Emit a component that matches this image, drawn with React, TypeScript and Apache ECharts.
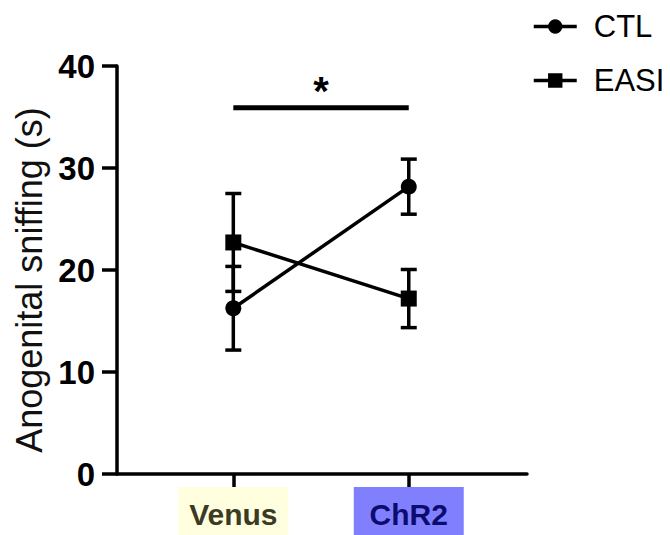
import React, { useEffect, useRef } from "react";
import * as echarts from "echarts";

// Groups on the x axis
const categories = ["Venus", "ChR2"];

// Mean ± SEM of anogenital sniffing time (s)
const ctlMean = [16.25, 28.17];
const ctlSem = [4.1, 2.7];
const easiMean = [22.7, 17.2];
const easiSem = [4.8, 2.85];

// Significance bracket between Venus and ChR2
const sigBar = [[0, 1, 35.9]];
const sigLabel = "*";

const yTicks = [0, 10, 20, 30, 40];

const FONT = "'Liberation Sans', Arial, Helvetica, sans-serif";

export default function App() {
  const ref = useRef<HTMLDivElement>(null);

  useEffect(() => {
    if (!ref.current) return;
    const chart = echarts.init(ref.current, undefined, { renderer: "svg" });

    const errData = [
      ...ctlMean.map((m, i) => [i, m - ctlSem[i], m + ctlSem[i]]),
      ...easiMean.map((m, i) => [i, m - easiSem[i], m + easiSem[i]]),
    ];

    const xs = categories.map((_, i) => i);

    chart.setOption({
      animation: false,
      backgroundColor: "#ffffff",
      textStyle: { fontFamily: FONT },
      grid: {
        left: 117,
        right: 143,
        top: 66,
        bottom: 61,
        containLabel: false,
        outerBoundsMode: "none",
      },
      legend: {
        orient: "vertical",
        left: 527,
        top: 6,
        itemWidth: 43,
        itemHeight: 18,
        itemGap: 23,
        lineStyle: { width: 3.5 },
        textStyle: {
          fontFamily: FONT,
          fontSize: 31,
          color: "#000",
          lineHeight: 30,
          padding: [0, 0, 0, 12],
        },
        data: ["CTL", "EASI"],
      },
      xAxis: {
        type: "value",
        min: -0.663,
        max: 1.674,
        axisLine: { show: true, onZero: false, lineStyle: { color: "#000", width: 3.5 } },
        axisTick: {
          show: true,
          customValues: xs,
          length: 15,
          lineStyle: { color: "#000", width: 3.5 },
        },
        splitLine: { show: false },
        axisLabel: {
          customValues: xs,
          margin: 22,
          formatter: (v: number) => (v === 0 ? `{a|${categories[0]}}` : `{b|${categories[1]}}`),
          rich: {
            a: {
              backgroundColor: "#ffffe0",
              color: "#3b3b24",
              width: 110,
              align: "center",
              fontSize: 30,
              fontWeight: "bold",
              fontFamily: FONT,
              lineHeight: 34,
              padding: [12, 0, 10, 0],
            },
            b: {
              backgroundColor: "#8080ff",
              color: "#0c0c6e",
              width: 110,
              align: "center",
              fontSize: 30,
              fontWeight: "bold",
              fontFamily: FONT,
              lineHeight: 34,
              padding: [12, 0, 10, 0],
            },
          },
        },
      },
      yAxis: {
        type: "value",
        min: yTicks[0],
        max: yTicks[yTicks.length - 1],
        interval: 10,
        name: "Anogenital sniffing (s)",
        nameLocation: "middle",
        nameGap: 70,
        nameTextStyle: {
          fontFamily: FONT,
          fontSize: 36,
          color: "#111",
          padding: [0, 20, 0, 0],
        },
        axisLine: { show: true, onZero: false, lineStyle: { color: "#000", width: 3.5 } },
        axisTick: { show: true, length: 15, lineStyle: { color: "#000", width: 3.5 } },
        splitLine: { show: false },
        axisLabel: {
          margin: 22,
          fontSize: 33,
          fontWeight: "bold",
          color: "#000",
          fontFamily: FONT,
        },
      },
      series: [
        {
          type: "custom",
          name: "err",
          z: 1,
          silent: true,
          data: errData,
          renderItem: (params: any, api: any) => {
            const x = api.value(0);
            const lo = api.coord([x, api.value(1)]);
            const hi = api.coord([x, api.value(2)]);
            const half = 8;
            const style = { stroke: "#000", lineWidth: 3.5 };
            return {
              type: "group",
              children: [
                { type: "line", shape: { x1: lo[0], y1: lo[1], x2: hi[0], y2: hi[1] }, style },
                { type: "line", shape: { x1: lo[0] - half, y1: lo[1], x2: lo[0] + half, y2: lo[1] }, style },
                { type: "line", shape: { x1: hi[0] - half, y1: hi[1], x2: hi[0] + half, y2: hi[1] }, style },
              ],
            };
          },
        },
        {
          type: "custom",
          name: "sig",
          z: 1,
          silent: true,
          data: sigBar,
          renderItem: (params: any, api: any) => {
            const p1 = api.coord([api.value(0), api.value(2)]);
            const p2 = api.coord([api.value(1), api.value(2)]);
            return {
              type: "group",
              children: [
                {
                  type: "line",
                  shape: { x1: p1[0], y1: p1[1], x2: p2[0], y2: p2[1] },
                  style: { stroke: "#000", lineWidth: 5 },
                },
                {
                  type: "text",
                  x: (p1[0] + p2[0]) / 2,
                  y: p1[1] - 37,
                  style: {
                    text: sigLabel,
                    fontSize: 40,
                    fontWeight: "bold",
                    fontFamily: FONT,
                    fill: "#000",
                    align: "center",
                    verticalAlign: "top",
                  },
                },
              ],
            };
          },
        },
        {
          type: "line",
          name: "CTL",
          z: 3,
          data: ctlMean.map((m, i) => [i, m]),
          symbol: "circle",
          symbolSize: 16,
          itemStyle: { color: "#000" },
          lineStyle: { color: "#000", width: 3.5 },
        },
        {
          type: "line",
          name: "EASI",
          z: 3,
          data: easiMean.map((m, i) => [i, m]),
          symbol: "rect",
          symbolSize: 16,
          itemStyle: { color: "#000" },
          lineStyle: { color: "#000", width: 3.5 },
        },
      ],
    });

    return () => chart.dispose();
  }, []);

  return (
    <div
      ref={ref}
      style={{ position: "absolute", left: 0, top: 0, width: 670, height: 535 }}
    />
  );
}
